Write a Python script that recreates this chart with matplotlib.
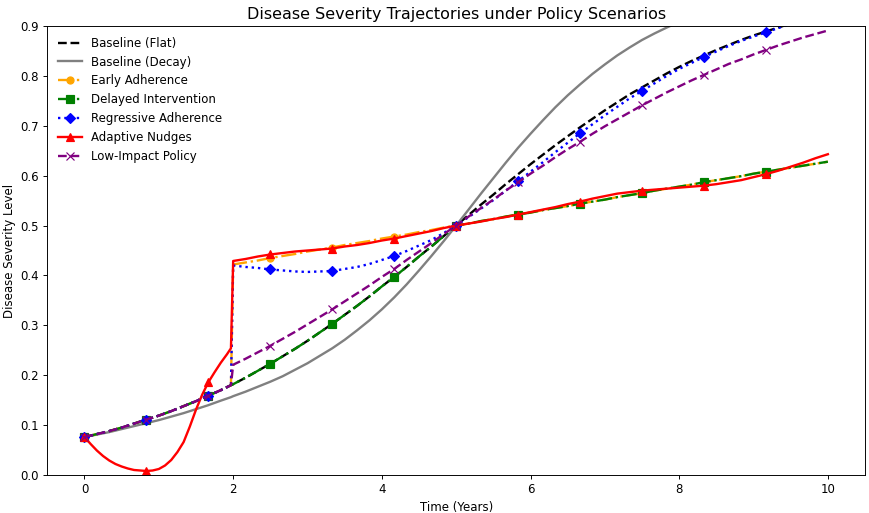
import numpy as np
import matplotlib.pyplot as plt

# time grid (years), step 1/6, plus one extra sample just before the t=2 switch
t = np.insert(np.linspace(0, 10, 61), 12, 1.97)
# the adaptive curve is read more finely (step 1/12) before t=2
t_red = np.concatenate([np.arange(24) / 12, [1.97], t[13:]])

marker_times = np.arange(12) * 10 / 12
marks = [int(np.argmin(np.abs(t - m))) for m in marker_times]
marks_red = [int(np.argmin(np.abs(t_red - m))) for m in marker_times]

flat = np.array([
    0.076, 0.082, 0.088, 0.095, 0.103, 0.111, 0.119, 0.128, 0.138, 0.148, 0.159, 0.170, 0.180,
    0.182, 0.195, 0.209, 0.223, 0.238, 0.253, 0.269, 0.286, 0.303, 0.321, 0.339, 0.358,
    0.378, 0.397, 0.417, 0.438, 0.458, 0.479, 0.500, 0.521, 0.542, 0.562, 0.583, 0.603,
    0.623, 0.642, 0.661, 0.679, 0.697, 0.714, 0.731, 0.747, 0.763, 0.777, 0.791, 0.805,
    0.818, 0.830, 0.841, 0.852, 0.862, 0.872, 0.881, 0.889, 0.897, 0.905, 0.912, 0.918, 0.924
])

decay = np.array([
    0.076, 0.081, 0.086, 0.092, 0.098, 0.104, 0.110, 0.117, 0.124, 0.132, 0.140, 0.149, 0.156,
    0.158, 0.167, 0.177, 0.187, 0.198, 0.211, 0.224, 0.239, 0.254, 0.271, 0.290, 0.310,
    0.332, 0.356, 0.382, 0.410, 0.439, 0.469, 0.500, 0.532, 0.564, 0.595, 0.626, 0.656,
    0.684, 0.711, 0.737, 0.761, 0.783, 0.804, 0.823, 0.841, 0.857, 0.872, 0.885, 0.897,
    0.908, 0.918, 0.927, 0.935, 0.942, 0.948, 0.953, 0.958, 0.962, 0.966, 0.969, 0.972, 0.975
])

# early adherence between t=2 and t=5
early_mid = [0.422, 0.426, 0.430, 0.435, 0.439, 0.443, 0.448, 0.452, 0.456, 0.461,
             0.465, 0.469, 0.474, 0.478, 0.482, 0.487, 0.491, 0.496, 0.500]
# slow growth after t=5 (shared by early / delayed)
slow_tail = [0.504, 0.509, 0.513, 0.518, 0.522, 0.526, 0.531, 0.535, 0.539, 0.544,
             0.548, 0.552, 0.557, 0.561, 0.565, 0.570, 0.574, 0.578, 0.582, 0.587,
             0.591, 0.595, 0.599, 0.604, 0.608, 0.612, 0.616, 0.620, 0.624, 0.628]

regressive_after = [
    0.420, 0.417, 0.415, 0.412, 0.410, 0.408, 0.407, 0.408, 0.409, 0.413,
    0.417, 0.423, 0.431, 0.439, 0.449, 0.460, 0.471, 0.485, 0.500,
    0.517, 0.534, 0.551, 0.570, 0.589, 0.608, 0.627, 0.647, 0.666, 0.685,
    0.703, 0.721, 0.738, 0.755, 0.770, 0.785, 0.800, 0.814, 0.826, 0.838,
    0.849, 0.860, 0.870, 0.879, 0.887, 0.896, 0.904, 0.910, 0.917, 0.923
]

low_impact_after = [
    0.221, 0.233, 0.246, 0.259, 0.273, 0.287, 0.302, 0.317, 0.332, 0.348,
    0.364, 0.380, 0.397, 0.413, 0.431, 0.448, 0.465, 0.483, 0.500,
    0.518, 0.535, 0.552, 0.570, 0.587, 0.604, 0.620, 0.637, 0.653, 0.668,
    0.684, 0.699, 0.713, 0.727, 0.741, 0.754, 0.767, 0.779, 0.791, 0.802,
    0.813, 0.824, 0.833, 0.843, 0.852, 0.861, 0.869, 0.877, 0.884, 0.891
]

# adaptive nudges: dip before t=2 (step 1/12), then step 1/6
adaptive_before = [
    0.076, 0.062, 0.049, 0.038, 0.029, 0.022, 0.017, 0.013, 0.010, 0.009, 0.008, 0.009,
    0.012, 0.019, 0.030, 0.046, 0.066, 0.097, 0.131, 0.161, 0.186, 0.206, 0.225, 0.242,
    0.254
]
adaptive_after = [
    0.429, 0.433, 0.438, 0.442, 0.445, 0.448, 0.450, 0.452, 0.454, 0.458,
    0.461, 0.465, 0.470, 0.474, 0.479, 0.484, 0.489, 0.495, 0.500,
    0.504, 0.508, 0.513, 0.517, 0.522, 0.527, 0.532, 0.537, 0.543, 0.548,
    0.554, 0.559, 0.564, 0.567, 0.570, 0.572, 0.574, 0.576, 0.578, 0.580,
    0.583, 0.587, 0.591, 0.597, 0.603, 0.610, 0.618, 0.626, 0.635, 0.643
]

early = np.concatenate([flat[:13], early_mid, slow_tail])
delayed = np.concatenate([flat[:32], slow_tail])
regressive = np.concatenate([flat[:13], regressive_after])
low_impact = np.concatenate([flat[:13], low_impact_after])
adaptive = np.array(adaptive_before + adaptive_after)

fig = plt.figure(figsize=(870 / 85, 513 / 85), dpi=85)
ax = fig.add_axes([0.0544, 0.0741, 0.9399, 0.8752])

ax.plot(t, flat, color='black', linestyle='--', lw=2, label='Baseline (Flat)')
ax.plot(t, decay, color='gray', linestyle='-', lw=2, label='Baseline (Decay)')
ax.plot(t, early, color='orange', linestyle='-.', marker='o', markevery=marks, lw=2,
        label='Early Adherence')
ax.plot(t, delayed, color='green', linestyle='-.', marker='s', markevery=marks, lw=2,
        label='Delayed Intervention')
ax.plot(t, regressive, color='blue', linestyle=':', marker='D', markevery=marks, lw=2,
        label='Regressive Adherence')
ax.plot(t_red, adaptive, color='red', linestyle='-', marker='^', markevery=marks_red, lw=2,
        label='Adaptive Nudges')
ax.plot(t, low_impact, color='purple', linestyle='--', marker='x', markevery=marks, lw=2,
        label='Low-Impact Policy')

ax.set_xlim(-0.5, 10.5)
ax.set_ylim(0, 0.9)
ax.set_title('Disease Severity Trajectories under Policy Scenarios', fontsize=13.6)
ax.set_xlabel('Time (Years)')
ax.set_ylabel('Disease Severity Level')
ax.legend(loc='upper left', frameon=False)

fig.savefig('out.png', dpi=85)
